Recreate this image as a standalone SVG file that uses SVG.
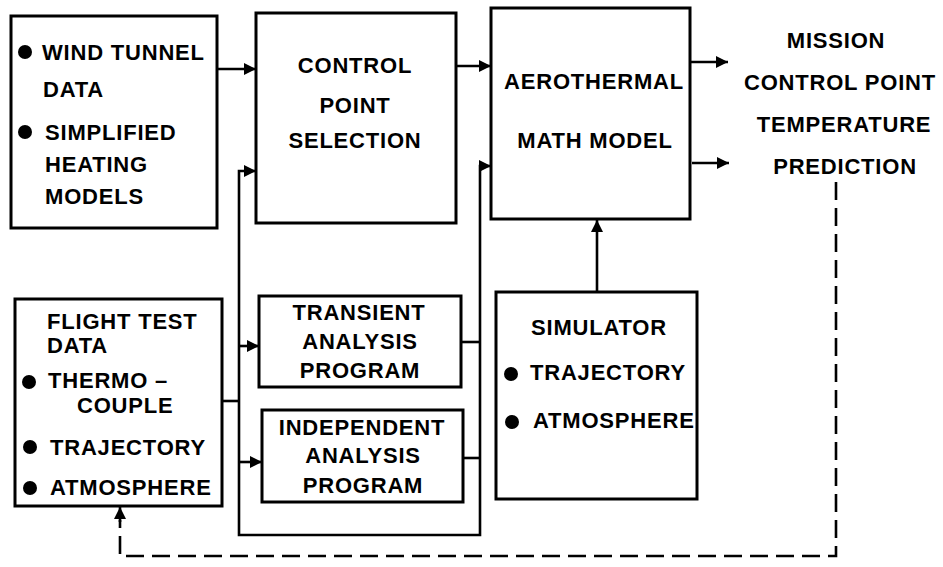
<svg xmlns="http://www.w3.org/2000/svg" width="943" height="567" viewBox="0 0 943 567">
<style>
.box{fill:none;stroke:#000;stroke-width:3}
.t{font-family:"Liberation Sans",Arial,sans-serif;font-weight:bold;font-size:22px;letter-spacing:0.8px;fill:#000}
.c{text-anchor:middle}
.ln{fill:none;stroke:#000;stroke-width:2.6}
.dash{fill:none;stroke:#000;stroke-width:2.6;stroke-dasharray:18,8}
</style>
<defs>
<marker id="ah" markerUnits="userSpaceOnUse" markerWidth="13" markerHeight="12" refX="12" refY="6" orient="auto">
<path d="M0,0 L12,6 L0,12 Z" fill="#000"/>
</marker>
</defs>
<rect width="943" height="567" fill="#fff"/>
<g id="connectors">
<path class="ln" d="M217,69 H256" marker-end="url(#ah)"/>
<path class="ln" d="M456,66 H491" marker-end="url(#ah)"/>
<path class="ln" d="M690,62 H728" marker-end="url(#ah)"/>
<path class="ln" d="M692,163 H729" marker-end="url(#ah)"/>
<path class="ln" d="M222,401 H239"/>
<path class="ln" d="M239,401 V171 H256" marker-end="url(#ah)"/>
<path class="ln" d="M239,401 V535 H480 V166 H491" marker-end="url(#ah)"/>
<path class="ln" d="M239,346 H259" marker-end="url(#ah)"/>
<path class="ln" d="M239,462 H262" marker-end="url(#ah)"/>
<path class="ln" d="M461,342 H480"/>
<path class="ln" d="M463,458 H480"/>
<path class="ln" d="M597,292 V220" marker-end="url(#ah)"/>
<path class="dash" d="M836,182 V556 H120 V520"/>
<path class="ln" d="M120,522 V507" marker-end="url(#ah)"/>
</g>
<g id="wind-tunnel">
<rect class="box" x="11" y="16" width="206" height="212"/>
<circle cx="25" cy="52" r="7"/>
<text class="t" x="42" y="60">WIND TUNNEL</text>
<text class="t" x="43" y="97">DATA</text>
<circle cx="25" cy="132" r="7"/>
<text class="t" x="45" y="140">SIMPLIFIED</text>
<text class="t" x="45" y="172">HEATING</text>
<text class="t" x="45" y="204">MODELS</text>
</g>
<g id="control-point-selection">
<rect class="box" x="256" y="13" width="200" height="210"/>
<text class="t c" x="355" y="73">CONTROL</text>
<text class="t c" x="355" y="113">POINT</text>
<text class="t c" x="355" y="148">SELECTION</text>
</g>
<g id="aerothermal">
<rect class="box" x="491" y="8" width="199" height="211"/>
<text class="t c" x="594" y="89">AEROTHERMAL</text>
<text class="t c" x="595" y="148">MATH MODEL</text>
</g>
<g id="mission-output">
<text class="t c" x="836" y="48">MISSION</text>
<text class="t c" x="840" y="90">CONTROL POINT</text>
<text class="t c" x="844" y="132">TEMPERATURE</text>
<text class="t c" x="845" y="174">PREDICTION</text>
</g>
<g id="flight-test">
<rect class="box" x="15" y="299" width="207" height="207"/>
<text class="t" x="47" y="329">FLIGHT TEST</text>
<text class="t" x="47" y="353">DATA</text>
<circle cx="29" cy="382" r="7"/>
<text class="t" x="48" y="388">THERMO –</text>
<text class="t" x="77" y="413">COUPLE</text>
<circle cx="30" cy="447" r="7"/>
<text class="t" x="50" y="455">TRAJECTORY</text>
<circle cx="30" cy="488" r="7"/>
<text class="t" x="50" y="495">ATMOSPHERE</text>
</g>
<g id="transient">
<rect class="box" x="259" y="296" width="202" height="91"/>
<text class="t c" x="359" y="320">TRANSIENT</text>
<text class="t c" x="360" y="349">ANALYSIS</text>
<text class="t c" x="360" y="378">PROGRAM</text>
</g>
<g id="independent">
<rect class="box" x="262" y="410" width="201" height="92"/>
<text class="t c" x="362" y="435">INDEPENDENT</text>
<text class="t c" x="363" y="463">ANALYSIS</text>
<text class="t c" x="363" y="493">PROGRAM</text>
</g>
<g id="simulator">
<rect class="box" x="496" y="292" width="201" height="207"/>
<text class="t c" x="599" y="335">SIMULATOR</text>
<circle cx="511" cy="374" r="7"/>
<text class="t" x="530" y="380">TRAJECTORY</text>
<circle cx="512" cy="422" r="7"/>
<text class="t" x="533" y="428">ATMOSPHERE</text>
</g>
</svg>
